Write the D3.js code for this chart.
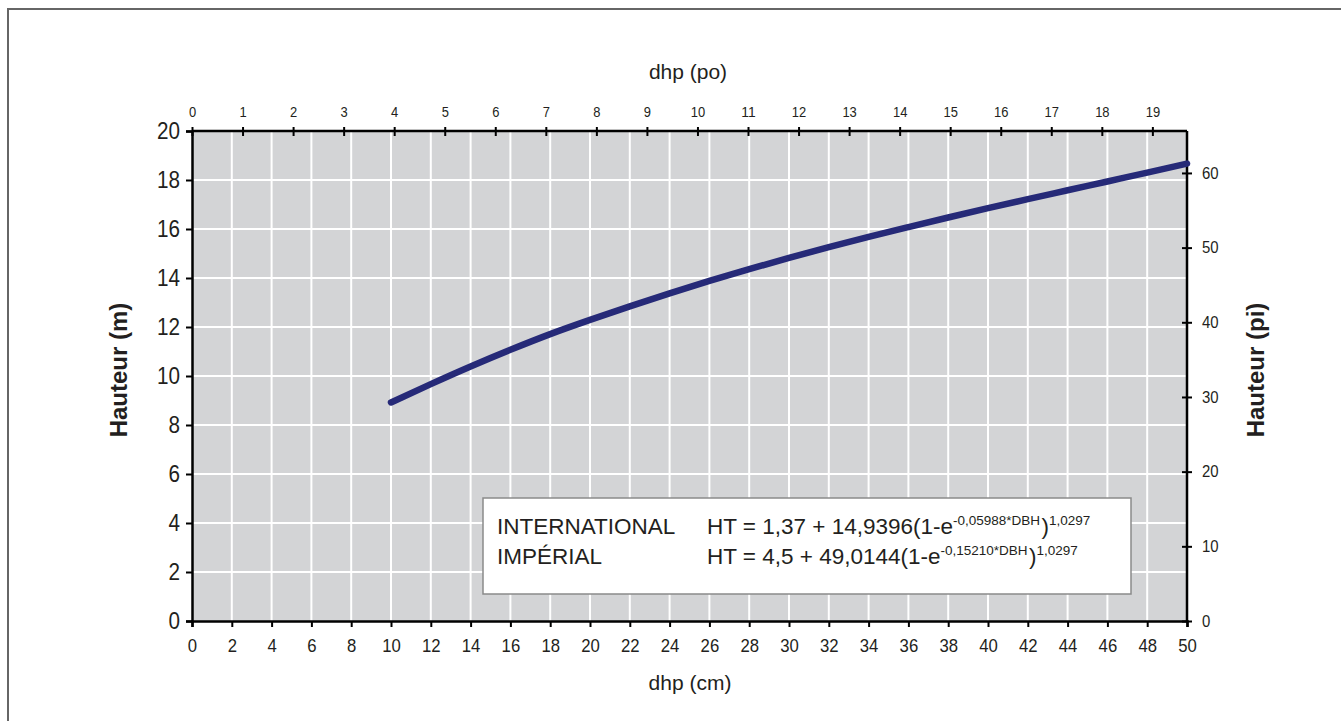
<!DOCTYPE html>
<html>
<head>
<meta charset="utf-8">
<script src="https://cdn.jsdelivr.net/npm/d3@7"></script>
<style>
  html, body { margin: 0; padding: 0; background: #fff; }
  svg { display: block; }
  text { font-family: "Liberation Sans", Arial, sans-serif; fill: #231f20; }
</style>
</head>
<body>
<svg id="chart" width="1341" height="721"></svg>
<script>
// ---- Data ----
const dbhCm = [10, 12, 14, 16, 18, 20, 22, 24, 26, 28, 30, 32, 34, 36, 38, 40, 42, 44, 46, 48, 50];
const heightM = [8.92, 9.67, 10.39, 11.07, 11.71, 12.29, 12.84, 13.37, 13.88, 14.36, 14.82, 15.26, 15.68, 16.08, 16.47, 16.85, 17.22, 17.58, 17.94, 18.30, 18.67];
const cmTicks = d3.range(0, 51, 2);
const inchTicks = d3.range(0, 20, 1);
const mTicks = d3.range(0, 21, 2);
const ftTicks = [0, 10, 20, 30, 40, 50, 60];
const legendNames = ["INTERNATIONAL", "IMPÉRIAL"];
const legendBase = ["HT = 1,37 + 14,9396(1-e", "HT = 4,5 + 49,0144(1-e"];
const legendExp = ["-0,05988*DBH", "-0,15210*DBH"];
const legendPow = ["1,0297", "1,0297"];

const svg = d3.select("#chart");
const L = 192, R = 1187, T = 131, B = 621;

const x = d3.scaleLinear().domain([0, 50]).range([L, R]);
const xIn = d3.scaleLinear().domain([0, 50 / 2.54]).range([L, R]);
const y = d3.scaleLinear().domain([0, 20]).range([B, T]);
const yFt = d3.scaleLinear().domain([0, 20 / 0.3048]).range([B, T]);

// outer frame
svg.append("rect").attr("x", 8).attr("y", 9).attr("width", 1500).attr("height", 900)
  .attr("fill", "none").attr("stroke", "#666").attr("stroke-width", 2);

// plot background
svg.append("rect").attr("x", L).attr("y", T).attr("width", R - L).attr("height", B - T)
  .attr("fill", "#d3d4d6");

// grid
const grid = svg.append("g").attr("stroke", "#fff").attr("stroke-width", 2);
grid.selectAll("line.v").data(cmTicks.filter(d => d > 0 && d < 50)).join("line")
  .attr("x1", d => x(d)).attr("x2", d => x(d)).attr("y1", T).attr("y2", B);
grid.selectAll("line.h").data(mTicks.filter(d => d > 0 && d < 20)).join("line")
  .attr("class", "h")
  .attr("x1", L).attr("x2", R).attr("y1", d => y(d)).attr("y2", d => y(d));

// axes
function styleAxis(g, size, charW) {
  g.select(".domain").attr("stroke", "#000").attr("stroke-width", 2.5);
  g.selectAll(".tick line").attr("stroke", "#000").attr("stroke-width", 2);
  g.selectAll(".tick text").attr("fill", "#231f20")
    .style("font-family", '"Liberation Sans", Arial, sans-serif')
    .style("font-size", size + "px")
    .attr("textLength", function () { return this.textContent.length * charW; })
    .attr("lengthAdjust", "spacingAndGlyphs");
}

const gBottom = svg.append("g").attr("transform", `translate(0,${B})`)
  .call(d3.axisBottom(x).tickValues(cmTicks).tickSizeOuter(0).tickSize(6).tickPadding(12));
styleAxis(gBottom, 19, 9.3);

const gTop = svg.append("g").attr("transform", `translate(0,${T})`)
  .call(d3.axisTop(xIn).tickValues(inchTicks).tickSizeOuter(0).tickSize(4).tickPadding(10));
styleAxis(gTop, 15.5, 7.2);
gTop.selectAll(".tick line").attr("y1", 5).attr("y2", -4);
gTop.select(".domain").attr("d", `M${L},0H${R}`);

const gLeft = svg.append("g").attr("transform", `translate(${L},0)`)
  .call(d3.axisLeft(y).tickValues(mTicks).tickSizeOuter(0).tickSize(6).tickPadding(6));
styleAxis(gLeft, 23, 11.5);

const gRight = svg.append("g").attr("transform", `translate(${R},0)`)
  .call(d3.axisRight(yFt).tickValues(ftTicks).tickSizeOuter(0).tickSize(5).tickPadding(10));
styleAxis(gRight, 16, 8.3);
gRight.selectAll(".tick line").attr("x1", -5).attr("x2", 5);
gRight.select(".domain").attr("d", `M0,${B}V${T}`);

// curve
const line = d3.line().x((d, i) => x(dbhCm[i])).y(d => y(d)).curve(d3.curveMonotoneX);
svg.append("path").datum(heightM).attr("d", line)
  .attr("fill", "none").attr("stroke", "#262a78").attr("stroke-width", 6.5)
  .attr("stroke-linecap", "round").attr("stroke-linejoin", "round");

// axis titles
svg.append("text").attr("x", 688).attr("y", 79).attr("text-anchor", "middle")
  .style("font-size", "21px").text("dhp (po)");
svg.append("text").attr("x", 690).attr("y", 690).attr("text-anchor", "middle")
  .style("font-size", "21px").text("dhp (cm)");
svg.append("text").attr("transform", "translate(127,370) rotate(-90)").attr("text-anchor", "middle")
  .style("font-size", "24px").style("font-weight", "bold").text("Hauteur (m)");
svg.append("text").attr("transform", "translate(1264,370) rotate(-90)").attr("text-anchor", "middle")
  .style("font-size", "24px").style("font-weight", "bold").text("Hauteur (pi)");

// legend box
svg.append("rect").attr("x", 483).attr("y", 498).attr("width", 648).attr("height", 96)
  .attr("fill", "#fff").attr("stroke", "#8a8a8a").attr("stroke-width", 1.5);

const lg = svg.append("g");
legendNames.forEach((name, i) => {
  const by = 534 + i * 30;
  lg.append("text").attr("x", 497).attr("y", by).style("font-size", "22.5px").text(name);
  const t = lg.append("text").attr("x", 707).attr("y", by).style("font-size", "22.5px");
  t.append("tspan").text(legendBase[i]);
  t.append("tspan").attr("dy", -9).style("font-size", "13.5px").text(legendExp[i]);
  t.append("tspan").attr("dx", 1.5).attr("dy", 9).text(")");
  t.append("tspan").attr("dy", -9).style("font-size", "13.5px").text(legendPow[i]);
});
</script>
</body>
</html>
